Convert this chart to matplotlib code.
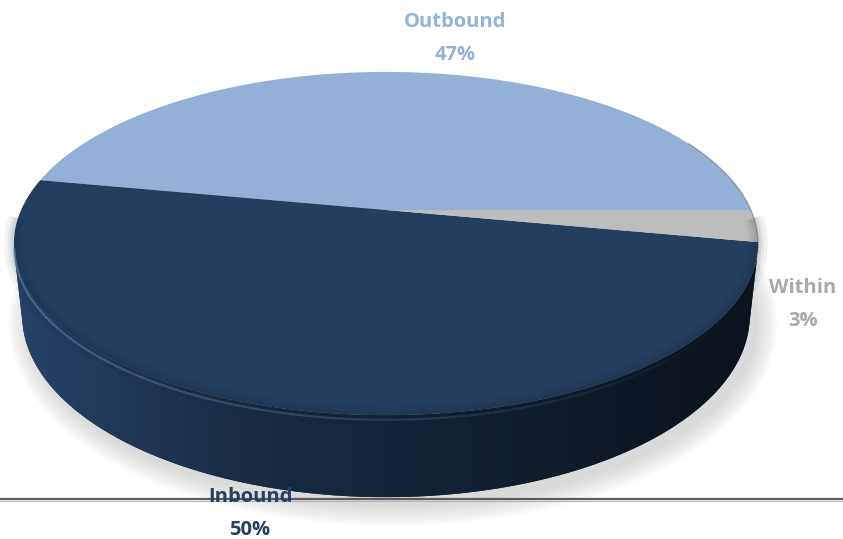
import numpy as np
import matplotlib.pyplot as plt
from matplotlib.patches import Polygon
from matplotlib.colors import LinearSegmentedColormap

# chart data
labels = ['Outbound', 'Inbound', 'Within']
shares = [47, 50, 3]
top_colors = ['#93B1D6', '#243E5F', '#BDBDBD']
label_colors = ['#95B3D7', '#243F60', '#A9A9A9']

# canvas (pixel coordinates)
W, H = 843, 539
cx, cy = 386, 210          # projected pie centre
elev = np.radians(26.9)    # camera elevation
dist = 4.56                # camera distance in radii
focal = 1664               # projection scale
thick = 0.222              # pie height in radii


def project(X, Y, z=0.0):
    # perspective projection of a point of the unit pie to pixel coords
    depth = dist + Y * np.cos(elev) - z * np.sin(elev)
    sx = focal * X / depth
    sy = focal * (Y * np.sin(elev) + z * np.cos(elev)) / depth
    return cx + sx, cy - sy


def rim(t0, t1, z=0.0, n=200):
    th = np.linspace(t0, t1, n)
    x, y = project(np.cos(th), np.sin(th), z)
    return np.column_stack([x, y])


fig = plt.figure(figsize=(W / 100, H / 100), dpi=100)
ax = fig.add_axes([0, 0, 1, 1])
ax.set_xlim(0, W)
ax.set_ylim(H, 0)
ax.axis('off')

# slice angles, counter-clockwise from the right
fracs = np.array(shares) / np.sum(shares)
edges = np.concatenate([[0], np.cumsum(fracs)]) * 2 * np.pi

# soft shadow under the pie
bottom = rim(0, 2 * np.pi, -thick, 300) + np.array([7, 8])
for w in np.arange(30, 0, -2):
    ax.add_patch(Polygon(bottom, closed=True, fc='none', ec='#a8a8a8',
                         lw=w, alpha=0.026, joinstyle='round', zorder=1))
ax.add_patch(Polygon(bottom, closed=True, fc='#dadada', ec='none', zorder=1))

# base line
ax.plot([0, W], [499, 499], color='#5c5c5c', lw=1.6, zorder=2)
ax.plot([0, W], [500.6, 500.6], color='#b5b5b5', lw=0.8, zorder=2)

# visible side wall, shaded left to right
alpha = np.arcsin(1 / (dist * np.cos(elev)))
vis0, vis1 = np.pi + alpha, 2 * np.pi - alpha
side = np.vstack([rim(vis0, vis1, 0, 300), rim(vis1, vis0, -thick, 300)])
side_patch = Polygon(side, closed=True, fc='#16263b', ec='none', zorder=3)
ax.add_patch(side_patch)
side_cmap = LinearSegmentedColormap.from_list(
    'side', ['#26436a', '#1b304b', '#152439', '#101b29', '#0b131c'])
x0, x1 = side[:, 0].min(), side[:, 0].max()
y0, y1 = side[:, 1].min(), side[:, 1].max()
grad = np.linspace(0, 1, 400)[None, :]
img = ax.imshow(grad, cmap=side_cmap, extent=[x0, x1, y1, y0],
                aspect='auto', interpolation='bilinear', zorder=3)
img.set_clip_path(side_patch)
ax.set_xlim(0, W)
ax.set_ylim(H, 0)

# top face wedges
for k in range(len(shares)):
    pts = np.vstack([[project(0, 0)], rim(edges[k], edges[k + 1])])
    ax.add_patch(Polygon(pts, closed=True, fc=top_colors[k], ec='none', zorder=4))

# darker rim on the front part of the top face
fr = rim(vis0 - 0.2, vis1 + 0.2, 0, 300)
for w, a in [(14, 0.05), (9, 0.06), (5, 0.08)]:
    ax.plot(fr[:, 0], fr[:, 1], color='#0f1c2c', lw=w, alpha=a,
            solid_capstyle='butt', zorder=5)

# bevel highlight along the front edge
hl = rim(vis0 - 0.05, vis1 - 0.3, -0.012, 120)
for i in range(len(hl) - 1):
    a = 0.75 * (1 - i / len(hl)) ** 1.2
    ax.plot(hl[i:i + 2, 0], hl[i:i + 2, 1], color='#5b80ab', lw=1.6,
            alpha=a, solid_capstyle='butt', zorder=6)

# thin dark outline at the back-right rim
br = rim(-0.25, 0.45, 0, 80)
ax.plot(br[:, 0], br[:, 1], color='#3a3a3a', lw=1.0, alpha=0.35, zorder=6)

# data labels
label_pos = {'Outbound': (455, 22), 'Inbound': (250, 497), 'Within': (803, 288)}
for k, name in enumerate(labels):
    x, y = label_pos[name]
    ax.text(x, y, name, ha='center', va='center', fontsize=14.5,
            fontweight='bold', family='Open Sans', color=label_colors[k], zorder=8)
    ax.text(x, y + 33, f'{shares[k]}%', ha='center', va='center', fontsize=14.5,
            fontweight='bold', family='Open Sans', color=label_colors[k], zorder=8)

fig.savefig('out.png', dpi=100)
